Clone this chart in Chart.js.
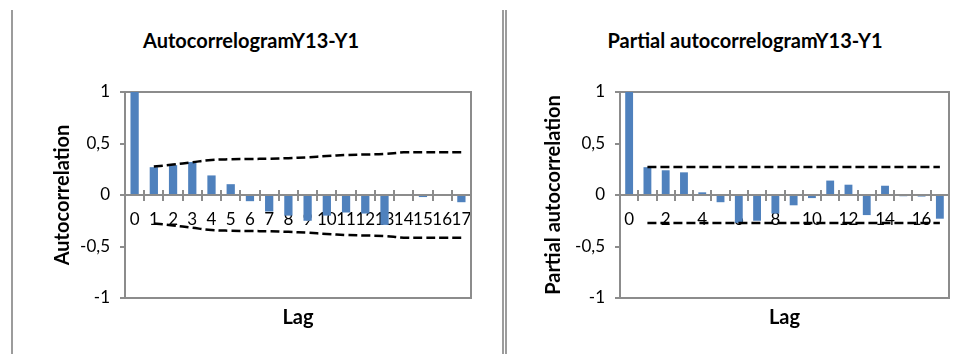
<!DOCTYPE html>
<html>
<head>
<meta charset="utf-8">
<script src="https://cdn.jsdelivr.net/npm/chart.js@4"></script>
<style>
  body { margin:0; background:#fff; width:969px; height:354px; overflow:hidden; position:relative; }
  canvas { position:absolute; top:0; }
  #cLeft { left:13px; }
  #cRight { left:508px; }
  .sep { position:absolute; top:10px; bottom:0; }
  .title { position:absolute; top:28px; font-family:Lato, sans-serif; font-weight:bold; font-size:20px; transform:translateX(-50%); white-space:nowrap; color:#000; }
</style>
</head>
<body>
<div class="sep" style="left:11px;width:2px;background:#9c9c9c"></div>
<div class="sep" style="left:502px;width:1px;border-left:2px solid #9c9c9c;border-right:2px solid #9c9c9c"></div>
<div class="title" style="left:251px">AutocorrelogramY13-Y1</div>
<div class="title" style="left:745px">Partial autocorrelogramY13-Y1</div>
<canvas id="cLeft" width="488" height="354"></canvas>
<canvas id="cRight" width="461" height="354"></canvas>
<script>
"use strict";
// lags on the x axis
const lags = ["0","1","2","3","4","5","6","7","8","9","10","11","12","13","14","15","16","17"];

// autocorrelogram
const acf = [1, 0.27, 0.29, 0.32, 0.19, 0.105, -0.06, -0.16, -0.2, -0.25, -0.2, -0.17, -0.18, -0.29, 0, -0.02, 0, -0.07];
const acfUpper = [null, 0.276, 0.295, 0.318, 0.34, 0.347, 0.35, 0.352, 0.358, 0.366, 0.378, 0.388, 0.393, 0.398, 0.414, 0.415, 0.415, 0.416];
const acfLower = [null, -0.276, -0.295, -0.318, -0.34, -0.347, -0.35, -0.352, -0.358, -0.366, -0.378, -0.388, -0.393, -0.398, -0.414, -0.415, -0.415, -0.416];

// partial autocorrelogram
const pacf = [1, 0.27, 0.24, 0.22, 0.026, -0.07, -0.27, -0.25, -0.18, -0.1, -0.03, 0.14, 0.1, -0.195, 0.09, -0.012, -0.015, -0.23];
const pacfUpper = [null, 0.272, 0.272, 0.272, 0.272, 0.272, 0.272, 0.272, 0.272, 0.272, 0.272, 0.272, 0.272, 0.272, 0.272, 0.272, 0.272, 0.272];
const pacfLower = [null, -0.272, -0.272, -0.272, -0.272, -0.272, -0.272, -0.272, -0.272, -0.272, -0.272, -0.272, -0.272, -0.272, -0.272, -0.272, -0.272, -0.272];

// y axis
const yTicks = [-1, -0.5, 0, 0.5, 1];
const yTickLabels = ["-1", "-0,5", "0", "0,5", "1"];

const blue = "#4f81bd";
const gray = "#8c8c8c";

Chart.defaults.font.family = "Lato";
Chart.defaults.color = "#000";

// frame round the plot area + the upper half of the lag tick marks
const frame = {
    id: "frame",
    beforeDatasetsDraw(chart) {
        let a = chart.chartArea;
        let ctx = chart.ctx;
        ctx.save();
        ctx.strokeStyle = gray;
        ctx.lineWidth = 2;
        ctx.strokeRect(a.left, a.top, a.right - a.left, a.bottom - a.top);
        ctx.restore();
    },
    afterDraw(chart) {
        let sx = chart.scales.x;
        let y0 = chart.scales.y.getPixelForValue(0);
        let n = chart.data.labels.length;
        let step = (sx.right - sx.left) / n;
        let ctx = chart.ctx;
        ctx.save();
        ctx.strokeStyle = gray;
        ctx.lineWidth = 2;
        ctx.beginPath();
        for (let i = 0; i <= n; i++) {
            let x = Math.round(sx.left + i * step);
            ctx.moveTo(x, y0 - 5);
            ctx.lineTo(x, y0);
        }
        ctx.stroke();
        ctx.restore();
    }
};

function creaGrafico(canvas, serie, sup, inf, yTitolo, passo, curva, titlePad, padRight) {
    return new Chart(canvas, {
        data: {
            labels: lags,
            datasets: [
                { type: "line", data: sup, borderColor: "#000", borderWidth: 2.5, borderDash: [9, 4],
                  pointRadius: 0, tension: curva, fill: false, order: 0 },
                { type: "line", data: inf, borderColor: "#000", borderWidth: 2.5, borderDash: [9, 4],
                  pointRadius: 0, tension: curva, fill: false, order: 0 },
                { type: "bar", data: serie, backgroundColor: blue, borderWidth: 0,
                  barPercentage: 0.43, categoryPercentage: 1, order: 1 }
            ]
        },
        options: {
            responsive: false,
            animation: false,
            devicePixelRatio: 1,
            layout: { padding: { left: 0, right: padRight, top: 92, bottom: 0 } },
            plugins: { legend: { display: false }, tooltip: { enabled: false } },
            scales: {
                x: {
                    type: "category",
                    position: { y: 0 },
                    z: 1,
                    offset: true,
                    grid: { drawOnChartArea: false, offset: true, tickLength: 5, color: gray, lineWidth: 2 },
                    border: { color: gray, width: 2 },
                    ticks: {
                        autoSkip: false, maxRotation: 0, minRotation: 0, padding: 9,
                        font: { size: 17 },
                        callback: (v, i) => (i % passo === 0 ? lags[i] : "")
                    }
                },
                x2: {
                    type: "category",
                    position: "bottom",
                    grid: { display: false },
                    border: { display: false },
                    ticks: { display: false },
                    title: { display: true, text: "Lag", font: { size: 20, weight: "bold" }, padding: { top: 0, bottom: 24 } },
                    afterFit: (s) => { s.height = 56; }
                },
                y: {
                    min: -1,
                    max: 1,
                    afterBuildTicks: (s) => { s.ticks = yTicks.map(v => ({ value: v })); },
                    grid: { drawOnChartArea: false, tickLength: 5, color: gray, lineWidth: 2 },
                    border: { color: gray, width: 2 },
                    ticks: {
                        padding: 10,
                        font: { size: 17 },
                        callback: (v) => yTickLabels[yTicks.indexOf(v)]
                    },
                    title: { display: true, text: yTitolo, font: { size: 20, weight: "bold" }, padding: { top: titlePad, bottom: 0 } },
                    afterFit: (s) => { s.width = 112; }
                }
            }
        },
        plugins: [frame]
    });
}

window.onload = function () {
    creaGrafico(document.getElementById("cLeft"), acf, acfUpper, acfLower, "Autocorrelation", 1, 0.4, 38, 30);
    creaGrafico(document.getElementById("cRight"), pacf, pacfUpper, pacfLower, "Partial autocorrelation", 2, 0, 34, 20);
};
</script>
</body>
</html>
